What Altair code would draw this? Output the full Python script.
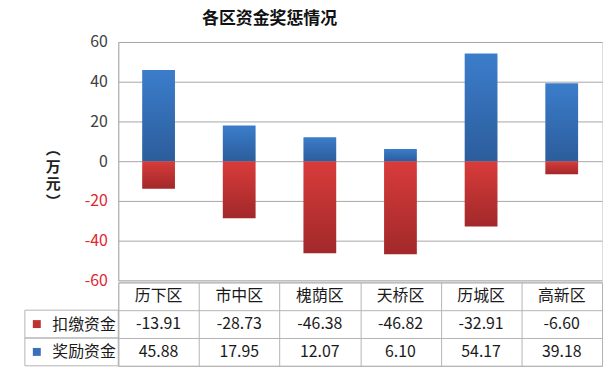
import altair as alt
import pandas as pd

# ---- data ----
categories = ["历下区", "市中区", "槐荫区", "天桥区", "历城区", "高新区"]
deduct = [-13.91, -28.73, -46.38, -46.82, -32.91, -6.60]   # 扣缴资金
reward = [45.88, 17.95, 12.07, 6.10, 54.17, 39.18]          # 奖励资金
series_names = ["扣缴资金", "奖励资金"]
y_ticks = [-60, -40, -20, 0, 20, 40, 60]

long_df = pd.DataFrame(
    [{"cat": c, "row": series_names[0], "value": v} for c, v in zip(categories, deduct)]
    + [{"cat": c, "row": series_names[1], "value": v} for c, v in zip(categories, reward)]
)
header_df = pd.DataFrame({"cat": categories, "row": ["header"] * len(categories)})
rows_df = pd.DataFrame({"row": series_names})

FONT = "Noto Sans CJK SC"
GRID = "#a6a6a6"
TABLE_LINE = "#b4b4b4"

blue_grad = alt.LinearGradient(
    gradient="linear", x1=0, x2=0, y1=0, y2=1,
    stops=[alt.GradientStop(offset=0, color="#3b7dcb"),
           alt.GradientStop(offset=1, color="#2c5d9c")],
)
red_grad = alt.LinearGradient(
    gradient="linear", x1=0, x2=0, y1=0, y2=1,
    stops=[alt.GradientStop(offset=0, color="#d83c3a"),
           alt.GradientStop(offset=1, color="#a2282a")],
)

x_bar = alt.X("cat:N", sort=categories,
              scale=alt.Scale(domain=categories, paddingInner=0, paddingOuter=0),
              axis=None)
y_axis = alt.Axis(
    values=y_ticks, grid=True, gridColor=GRID, domainColor=GRID, ticks=False,
    labelFontSize=16, labelPadding=11, labelFont=FONT,
    labelExpr="toString(datum.value)",
    labelColor={"condition": {"test": "datum.value < 0", "value": "#e0262e"}, "value": "#404040"},
    title=["︵", "万", "元", "︶"], titleAngle=0, titleFont=FONT, titleFontSize=15,
    titleFontWeight="bold", titleColor="#222222", titleLineHeight=18,
    titleX=-66, titleY=100, titleAlign="center", titleBaseline="top",
)
y_bar = alt.Y("value:Q", scale=alt.Scale(domain=[-60, 60], nice=False, zero=True), axis=y_axis)

base = alt.Chart(long_df)
red_bars = base.transform_filter(alt.datum.row == series_names[0]).mark_bar(
    size=33, color=red_grad).encode(x=x_bar, y=y_bar)
blue_bars = base.transform_filter(alt.datum.row == series_names[1]).mark_bar(
    size=33, color=blue_grad).encode(x=x_bar, y=y_bar)

top = alt.layer(red_bars, blue_bars).properties(width=487, height=240)

# ---- data table ----
row_domain = ["header"] + series_names
x_tab = alt.X("cat:N", sort=categories,
              scale=alt.Scale(domain=categories, paddingInner=0, paddingOuter=0),
              axis=alt.Axis(labels=False, ticks=False, domain=False, grid=True,
                            tickBand="extent", gridColor=TABLE_LINE, title=None))
y_tab = alt.Y("row:N", sort=row_domain,
              scale=alt.Scale(domain=row_domain, paddingInner=0, paddingOuter=0),
              axis=alt.Axis(title=None, grid=True, tickBand="extent", gridColor=TABLE_LINE,
                            ticks=False, domain=False, labelFontSize=16, labelFont=FONT,
                            labelPadding=3, labelColor="#1a1a1a",
                            labelExpr="datum.value == 'header' ? '' : datum.value"))

header_text = alt.Chart(header_df).mark_text(fontSize=16, font=FONT, color="#1a1a1a").encode(
    x=x_tab, y=y_tab, text="cat:N")
value_text = alt.Chart(long_df).transform_calculate(
    label="replace(format(datum.value, '.2f'), '\u2212', '-')"
).mark_text(fontSize=16, font=FONT, color="#1a1a1a").encode(
    x=x_tab, y=y_tab, text="label:N")
cells = alt.Chart(rows_df).mark_rect(fillOpacity=0, stroke=TABLE_LINE, strokeWidth=1).encode(
    x=alt.value(-94), x2=alt.value(0), y=y_tab)
squares = alt.Chart(rows_df).mark_point(shape="square", filled=True, size=64, opacity=1).encode(
    x=alt.value(-82), y=y_tab,
    color=alt.Color("row:N", scale=alt.Scale(domain=series_names, range=["#be3232", "#3a70b8"]),
                    legend=None))

table = alt.layer(cells, header_text, value_text, squares).properties(
    width=487, height=84, view=alt.ViewBackground(stroke=TABLE_LINE, strokeWidth=1))

chart = alt.vconcat(top, table, spacing=2, bounds="flush").properties(
    title=alt.TitleParams("各区资金奖惩情况", font=FONT, fontSize=17, fontWeight="bold",
                          color="#111111", anchor="middle", offset=6, dx=-44),
    padding={"left": 16, "top": 0, "right": 3, "bottom": 0},
).configure_view(stroke=None).configure(font=FONT)

chart.save("out.html", embed_options={"renderer": "svg", "actions": False})
